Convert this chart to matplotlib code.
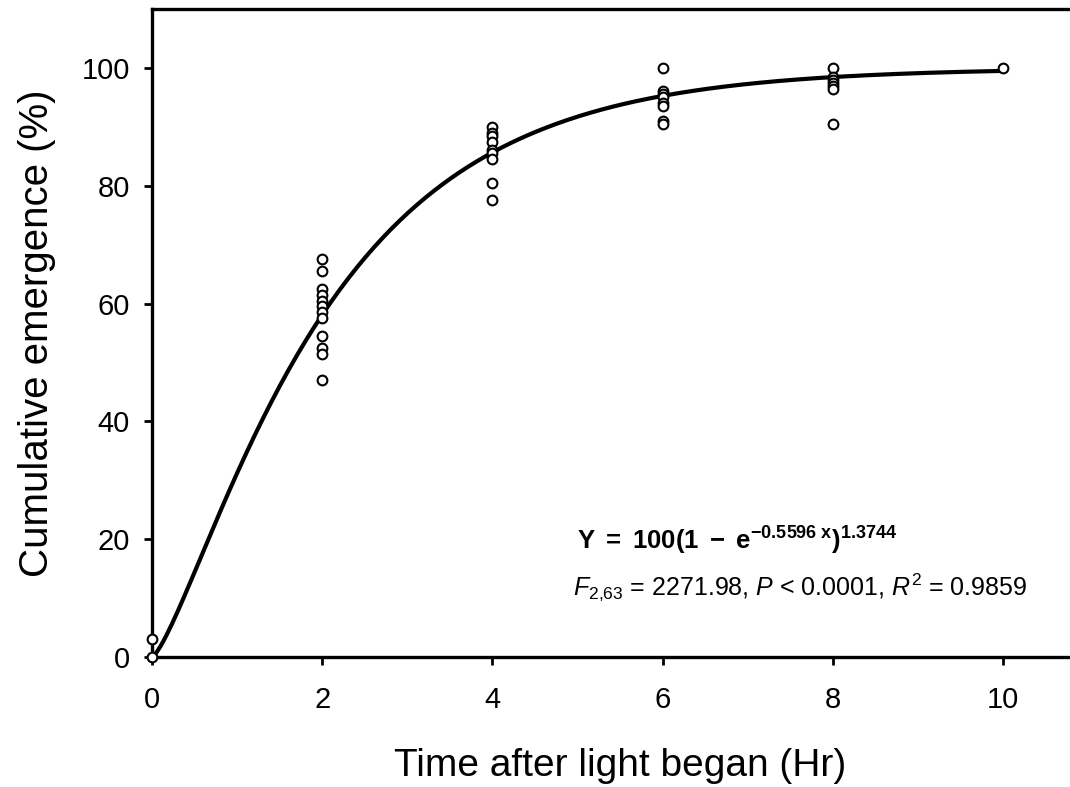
import numpy as np
import matplotlib
matplotlib.use('Agg')
from matplotlib import pyplot as plt

plt.rcParams['font.family'] = ['Liberation Sans', 'DejaVu Sans']
plt.rcParams['mathtext.fontset'] = 'custom'
plt.rcParams['mathtext.rm'] = 'Liberation Sans'
plt.rcParams['mathtext.it'] = 'Liberation Sans:italic'
plt.rcParams['mathtext.bf'] = 'Liberation Sans:bold'

# observed emergence (%) at each time
x0 = [0, 0]
y0 = [3, 0]
x2 = [2] * 12
y2 = [67.5, 65.5, 62.5, 61.5, 60.5, 59.5, 58.5, 57.5, 54.5, 52.5, 51.5, 47]
x4 = [4] * 9
y4 = [90, 89, 88.5, 87.5, 86, 85.5, 84.5, 80.5, 77.5]
x6 = [6] * 8
y6 = [100, 96, 95.5, 95, 94, 93.5, 91, 90.5]
x8 = [8] * 7
y8 = [100, 98.5, 98, 97.5, 97, 96.5, 90.5]
x10 = [10]
y10 = [100]

# fitted model parameters
a = 100
b = 0.5596
c = 1.3744

xs = np.concatenate([x0, x2, x4, x6, x8, x10])
ys = np.concatenate([y0, y2, y4, y6, y8, y10])

fig = plt.figure(figsize=(10.7, 7.87), dpi=100)
ax = fig.add_axes([152 / 1070, 130 / 787, 936 / 1070, 648 / 787])

xf = np.linspace(0, 10, 300)
yf = a * (1 - np.exp(-b * xf)) ** c
ax.plot(xf, yf, color='black', lw=3, clip_on=False, zorder=3)
ax.plot(xs, ys, 'o', mfc='white', mec='black', mew=1.5, ms=7,
        clip_on=False, zorder=4)

ax.set_xlim(0, 11)
ax.set_ylim(0, 110)
ax.set_xticks([0, 2, 4, 6, 8, 10])
ax.set_yticks([0, 20, 40, 60, 80, 100])
ax.tick_params(axis='both', direction='out', length=6, width=2, labelsize=21)
ax.tick_params(axis='x', pad=15)
ax.tick_params(axis='y', pad=10)
for s in ax.spines.values():
    s.set_linewidth(2.4)

ax.set_xlabel('Time after light began (Hr)', fontsize=28)
ax.set_ylabel('Cumulative emergence (%)', fontsize=29)
ax.xaxis.set_label_coords(0.5, -0.14)
ax.yaxis.set_label_coords(-0.1026, 0.5)

ax.text(5.0, 19.7, r'$\mathbf{Y\ =\ 100(1\ -\ e^{-0.5596\ x})^{1.3744}}$',
        fontsize=18.5, ha='left', va='center')
ax.text(4.95, 11.9, r'$F_{2{,}63}$ = 2271.98, $P$ < 0.0001, $R^2$ = 0.9859',
        fontsize=18, ha='left', va='center')

fig.savefig('out.png', dpi=100)
